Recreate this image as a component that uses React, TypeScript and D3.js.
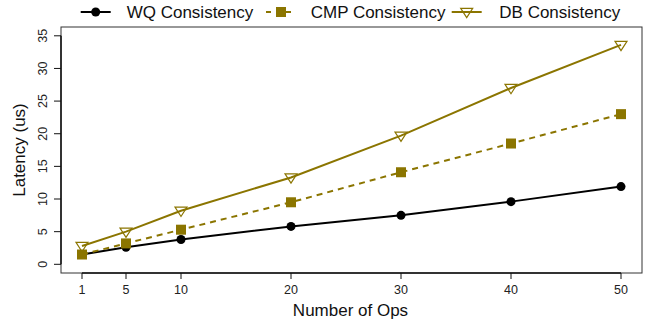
import React, { useEffect, useRef } from 'react';
import * as d3 from 'd3';

const ops = [1, 5, 10, 20, 30, 40, 50];
const wqLatency = [1.5, 2.6, 3.8, 5.8, 7.5, 9.6, 11.9];
const cmpLatency = [1.5, 3.2, 5.3, 9.5, 14.1, 18.5, 23.0];
const dbLatency = [2.8, 5.0, 8.2, 13.3, 19.7, 27.0, 33.6];
const yTicks = [0, 5, 10, 15, 20, 25, 30, 35];
const seriesNames = ['WQ Consistency', 'CMP Consistency', 'DB Consistency'];

const GOLD = '#8b7500';
const FONT = 'Liberation Sans, Arial, sans-serif';

export default function App() {
  const ref = useRef<SVGSVGElement>(null);

  useEffect(() => {
    const width = 646;
    const height = 323;
    const svg = d3.select(ref.current);
    svg.selectAll('*').remove();

    const box = { left: 61, top: 27, right: 642, bottom: 273 };
    const x = d3.scaleLinear().domain([1, 50]).range([82, 621]);
    const y = d3.scaleLinear().domain([0, 35]).range([264.3, 35.8]);

    svg.append('rect')
      .attr('width', width).attr('height', height).attr('fill', 'white');

    // plot box
    svg.append('rect')
      .attr('x', box.left).attr('y', box.top)
      .attr('width', box.right - box.left).attr('height', box.bottom - box.top)
      .attr('fill', 'none').attr('stroke', '#333').attr('stroke-width', 1);

    // x axis
    const xa = svg.append('g');
    xa.append('line')
      .attr('x1', x(1)).attr('x2', x(50)).attr('y1', box.bottom).attr('y2', box.bottom)
      .attr('stroke', '#111').attr('stroke-width', 1.5);
    ops.forEach((v) => {
      xa.append('line')
        .attr('x1', x(v)).attr('x2', x(v)).attr('y1', box.bottom).attr('y2', box.bottom + 6)
        .attr('stroke', '#111');
      xa.append('text')
        .attr('x', x(v)).attr('y', box.bottom + 21)
        .attr('text-anchor', 'middle')
        .attr('font-family', FONT).attr('font-size', 12.5).attr('fill', '#222')
        .text(v);
    });
    svg.append('text')
      .attr('x', (box.left + box.right) / 2 - 1).attr('y', 316)
      .attr('text-anchor', 'middle')
      .attr('font-family', FONT).attr('font-size', 17).attr('fill', '#111')
      .text('Number of Ops');

    // y axis
    const ya = svg.append('g');
    ya.append('line')
      .attr('x1', box.left).attr('x2', box.left).attr('y1', y(0)).attr('y2', y(35))
      .attr('stroke', '#111').attr('stroke-width', 1.5);
    yTicks.forEach((v) => {
      ya.append('line')
        .attr('x1', box.left - 7).attr('x2', box.left).attr('y1', y(v)).attr('y2', y(v))
        .attr('stroke', '#111');
      ya.append('text')
        .attr('transform', `translate(${box.left - 14},${y(v)}) rotate(-90)`)
        .attr('text-anchor', 'middle')
        .attr('font-family', FONT).attr('font-size', 12.5).attr('fill', '#222')
        .text(v);
    });
    svg.append('text')
      .attr('transform', `translate(25,${(box.top + box.bottom) / 2}) rotate(-90)`)
      .attr('text-anchor', 'middle')
      .attr('font-family', FONT).attr('font-size', 17).attr('fill', '#111')
      .text('Latency (us)');

    const line = d3.line<number>()
      .x((_, i) => x(ops[i]))
      .y((d) => y(d));

    const tri = (cx: number, cy: number, s: number) =>
      `M${cx - s},${cy - s * 0.6}L${cx + s},${cy - s * 0.6}L${cx},${cy + s * 0.95}Z`;

    const drawMarker = (g: any, kind: number, cx: number, cy: number) => {
      if (kind === 0) {
        g.append('circle').attr('cx', cx).attr('cy', cy).attr('r', 4.5).attr('fill', 'black');
      } else if (kind === 1) {
        g.append('rect').attr('x', cx - 5).attr('y', cy - 5)
          .attr('width', 10).attr('height', 10).attr('fill', GOLD);
      } else {
        g.append('path').attr('d', tri(cx, cy, 6))
          .attr('fill', 'none').attr('stroke', GOLD).attr('stroke-width', 1.2);
      }
    };

    const series = [
      { data: wqLatency, color: 'black', dash: null },
      { data: cmpLatency, color: GOLD, dash: '6,5' },
      { data: dbLatency, color: GOLD, dash: null },
    ];

    const plot = svg.append('g');
    series.forEach((s) => {
      plot.append('path')
        .attr('d', line(s.data))
        .attr('fill', 'none')
        .attr('stroke', s.color)
        .attr('stroke-width', 2)
        .attr('stroke-dasharray', s.dash);
    });
    series.forEach((s, k) => {
      s.data.forEach((d, i) => drawMarker(plot, k, x(ops[i]), y(d)));
    });

    // legend
    const legX = [80.7, 266, 451.7];
    const txtX = [126.7, 310.7, 499.3];
    const legY = 12;
    const legend = svg.append('g');
    series.forEach((s, k) => {
      legend.append('line')
        .attr('x1', legX[k]).attr('x2', legX[k] + 30).attr('y1', legY).attr('y2', legY)
        .attr('stroke', s.color).attr('stroke-width', 2)
        .attr('stroke-dasharray', s.dash ? '5,5' : null);
      drawMarker(legend, k, legX[k] + 15, legY);
      legend.append('text')
        .attr('x', txtX[k]).attr('y', legY + 6)
        .attr('font-family', FONT).attr('font-size', 17).attr('fill', '#111')
        .text(seriesNames[k]);
    });
  }, []);

  return (
    <div style={{ position: 'absolute', left: 0, top: 0 }}>
      <svg ref={ref} width={646} height={323} style={{ display: 'block' }}></svg>
    </div>
  );
}
